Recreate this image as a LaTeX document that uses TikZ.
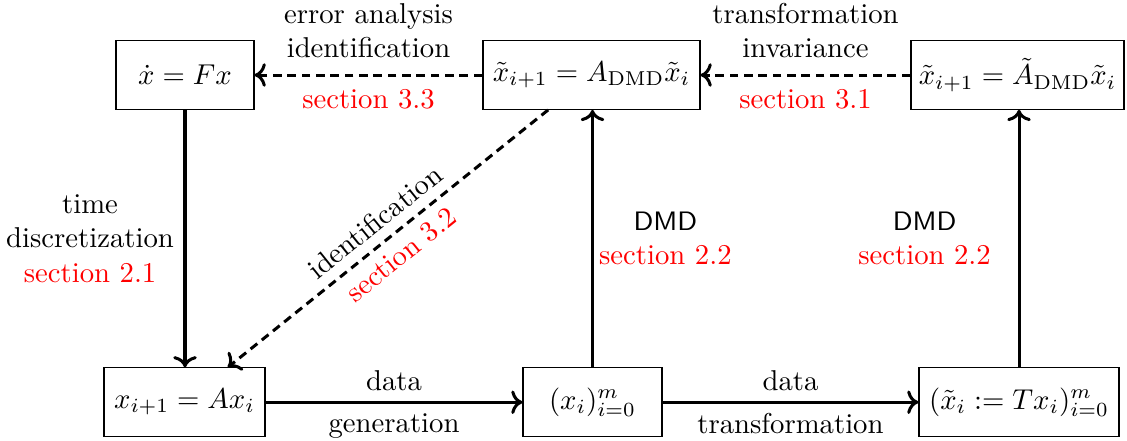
\documentclass[tikz,border=0pt]{standalone}
\usetikzlibrary{arrows.meta}
\begin{document}
\begin{tikzpicture}[x=0.3484pt, y=-0.3484pt,
  box/.style={draw, line width=0.4pt, minimum height=23.9pt, inner sep=0pt},
  arr/.style={->, line width=1.05pt},
  darr/.style={arr, densely dashed},
  lbl/.style={align=center, font=\normalsize},
  sec/.style={text=red, align=center}
]
\useasboundingbox (0,0) rectangle (1127,440);
% boxes
\node[box, minimum width=48.1pt] (Fx) at (185,75) {$\dot{x} = Fx$};
\node[box, minimum width=75.6pt] (Atop) at (591.5,75) {$\tilde{x}_{i+1} = A_{\mathrm{DMD}}\tilde{x}_i$};
\node[box, minimum width=74.2pt] (Atil) at (1017.5,75) {$\tilde{x}_{i+1} = \tilde{A}_{\mathrm{DMD}}\tilde{x}_i$};
\node[box, minimum width=56.1pt] (BL) at (184.5,402.2) {$x_{i+1} = Ax_i$};
\node[box, minimum width=48.4pt] (Mid) at (592.5,402.2) {$(x_i)_{i=0}^m$};
\node[box, minimum width=69.7pt] (BR) at (1019,402.2) {$(\tilde{x}_i := Tx_i)_{i=0}^m$};

% dashed arrows
\draw[darr] (Atop) -- (Fx)
  node[midway, above=2pt, lbl] (l1) {error analysis\\identification}
  node[midway, below=1pt, sec] (s1) {section 3.3};
\draw[darr] (Atil) -- (Atop)
  node[midway, above=2pt, lbl] (l2) {transformation\\invariance}
  node[midway, below=1pt, sec] (s2) {section 3.1};
\draw[darr] (Atop) -- (BL)
  node[midway, sloped, above, lbl] (l3) {identification}
  node[midway, sloped, below, sec] (s3) {section 3.2};

% solid vertical arrows
\draw[arr] (Fx.south) -- (Fx.south |- BL.north)
  node[midway, left, lbl] (l4) {time\\discretization\\\textcolor{red}{section 2.1}};
\draw[arr] (Mid.north) -- (Mid.north |- Atop.south)
  node[midway, right, inner xsep=1.8pt, lbl] (l5) {{\sffamily\fontsize{9.3pt}{12pt}\selectfont DMD}\\\textcolor{red}{section 2.2}};
\draw[arr] (BR.north) -- (BR.north |- Atil.south)
  node[midway, left, inner xsep=9.3pt, lbl] (l6) {{\sffamily\fontsize{9.3pt}{12pt}\selectfont DMD}\\\textcolor{red}{section 2.2}};

% bottom horizontal arrows
\draw[arr] (BL) -- (Mid)
  node[midway, above, lbl] (l7) {data}
  node[midway, below, lbl] (l8) {generation};
\draw[arr] (Mid) -- (BR)
  node[midway, above, lbl] (l9) {data}
  node[midway, below, lbl] (l10) {transformation};
\end{tikzpicture}
\end{document}
